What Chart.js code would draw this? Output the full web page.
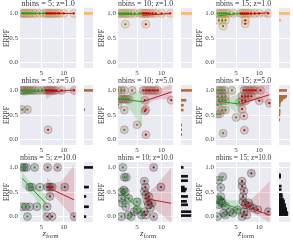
<!DOCTYPE html>
<html>
<head>
<meta charset="utf-8">
<script src="https://cdn.jsdelivr.net/npm/chart.js@4"></script>
<style>
body { margin: 0; background: #fff; width: 293px; height: 242px; position: relative; overflow: hidden; }
canvas { position: absolute; }
.xl { position: absolute; width: 40px; text-align: center; font-family: 'Liberation Serif', serif; font-size: 9px; line-height: 9px; color: #3a3a3a; }
.xl sub { font-size: 6.5px; vertical-align: -2px; line-height: 0; }
</style>
</head>
<body>
<script>
// panel order: row by row (z = 1, 5, 10), columns nbins = 5, 10, 15
const panelTitles = ['nbins = 5; z=1.0', 'nbins = 10; z=1.0', 'nbins = 15; z=1.0',
                     'nbins = 5; z=5.0', 'nbins = 10; z=5.0', 'nbins = 15; z=5.0',
                     'nbins = 5; z=10.0', 'nbins = 10; z=10.0', 'nbins = 15; z=10.0'];
const yTicks = [0, 0.5, 1];
const xTicks = [5, 10];

// [z_form, ERPF] for the early (green) and late (red) groups
const greenPts = [
  [[0.7,1],[1.0,1],[1.3,1],[1.6,1],[1.9,1],[2.3,1],[2.7,1],[3.2,1],[3.7,1],[4.6,1],[5.5,1]],
  [[1.3,1],[1.7,1],[2.1,1],[2.5,1],[2.9,1],[3.3,1],[3.8,1],[4.5,1],[5.5,1],[2.6,0.78]],
  [[1.0,1],[1.4,1],[1.8,1],[2.2,1],[2.6,1],[3.0,1],[3.5,1],[4.5,1],[1.3,0.86],[2.0,0.86],[2.7,0.86],[2.2,0.74]],
  [[0.6,1],[0.9,1],[1.3,1],[1.7,1],[2.1,1],[2.5,1],[3.0,1],[3.5,1],[4.3,1],[5.2,1],[0.7,0.61],[1.9,0.61]],
  [[1.1,1],[1.8,1],[2.4,1],[4.0,1],[1.4,0.82],[1.8,0.82],[2.2,0.82],[2.6,0.82],[3.0,0.82],[3.4,0.82],[1.1,0.71],[2.4,0.6],[2.4,0.2],[5.0,0.3]],
  [[1.0,1],[1.5,1],[2.0,1],[2.5,1],[4.1,1],[1.0,0.88],[2.0,0.88],[2.7,0.88],[1.3,0.79],[2.0,0.79],[2.7,0.79],[1.0,0.7],[2.0,0.6],[2.7,0.6],[1.0,0.52],[1.5,0.52],[5.0,0.45],[2.2,0.13],[5.7,0.76]],
  [[0.7,1],[1.2,1],[1.7,1],[3.5,1],[2.4,0.6],[2.9,0.6],[4.7,0.6],[0.7,0.2],[1.5,0.2],[2.4,0.2],[4.0,0.2],[1.9,0]],
  [[2.1,1],[2.4,0.8],[2.8,0.8],[1.8,0.5],[2.3,0.54],[2.6,0.5],[2.0,0.27],[1.8,0.37],[2.7,0.2],[1.8,0],[3.2,0.03],[3.8,0],[4.4,0.1],[5.0,0.3],[5.0,0.14],[5.9,0.03],[3.3,0.37]],
  [[1.2,0.74],[2.1,0.81],[1.7,0.59],[1.2,0.34],[1.7,0.31],[1.3,0.24],[2.0,0.28],[2.7,0.21],[2.3,0.07],[1.0,0],[2.7,0.03],[3.7,0.1],[4.3,0.07],[5.3,0.14],[1.7,0.41]]
];
const redPts = [
  [[6.1,1],[6.4,1],[6.7,1],[7.0,1],[7.3,1],[7.7,1],[8.1,1],[8.6,1],[9.0,1],[10.0,1],[12.2,1]],
  [[6.1,1],[6.4,1],[6.7,1],[7.0,1],[7.3,1],[7.7,1],[8.2,1],[8.8,1],[10.0,1],[11.8,1],[6.8,0.78]],
  [[6.0,1],[6.4,1],[6.8,1],[7.2,1],[7.6,1],[8.2,1],[9.0,1],[10.0,1],[12.0,1],[7.0,0.86],[7.0,0.79]],
  [[6.0,1],[6.3,1],[6.6,1],[7.0,1],[7.4,1],[7.8,1],[8.3,1],[9.5,1],[12.3,1],[6.5,0.2]],
  [[6.3,1],[6.8,1],[7.3,1],[7.7,1],[8.2,1],[8.7,1],[9.2,1],[6.6,0.8],[12.0,0.8],[6.8,0.61],[6.6,0.58],[6.8,0.1]],
  [[6.7,1],[7.2,1],[7.7,1],[8.2,1],[8.7,1],[9.2,1],[10.3,1],[6.3,0.88],[7.0,0.88],[7.6,0.88],[8.3,0.88],[6.3,0.79],[7.0,0.79],[10.0,0.79],[12.2,0.74],[6.3,0.62],[6.7,0.48],[6.8,0.19]],
  [[6.4,1],[8.6,1],[6.4,0.6],[6.9,0.6],[7.4,0.6],[10.2,0.6],[6.9,0.41],[6.3,0.2],[6.3,0],[7.4,0],[12.3,0]],
  [[8.4,1],[6.5,0.72],[6.7,0.6],[9.9,0.6],[6.5,0.51],[6.8,0.44],[7.4,0.41],[7.1,0.31],[8.0,0.27],[7.7,0.17],[6.5,0.1],[6.8,0.03],[8.4,0],[7.3,0.24]],
  [[8.3,0.88],[6.3,0.72],[6.3,0.62],[6.7,0.52],[6.5,0.41],[6.5,0.31],[7.0,0.24],[7.7,0.28],[8.0,0.21],[8.7,0.17],[9.7,0.14],[12.0,0.1],[6.7,0.1],[6.3,0],[7.3,0.03]]
];

// fitted lines, end points
const greenFit = [
  [[0.7,1],[6.0,1]], [[1.3,0.97],[6.1,0.99]], [[1.0,0.95],[6.0,1.0]],
  [[0.6,0.94],[6.0,1.0]], [[1.1,0.83],[6.1,0.77]], [[1.0,0.78],[6.0,0.72]],
  [[0.7,0.78],[6.0,0.27]], [[1.8,0.48],[6.2,0.09]], [[1.0,0.31],[6.0,0.14]]
];
const redFit = [
  [[6.0,1],[12.2,1]], [[6.1,0.96],[11.8,1.0]], [[6.0,0.98],[12.0,1.01]],
  [[6.0,0.96],[12.3,1.01]], [[6.1,0.77],[12.1,0.97]], [[6.0,0.73],[12.2,0.91]],
  [[6.2,0.6],[12.3,0.34]], [[6.5,0.37],[12.0,0.27]], [[6.0,0.24],[12.3,0.03]]
];
// confidence bands: [z_form, low, high]
const greenBand = [
  [[0.7,0.99,1.01],[6.0,0.99,1.01]],
  [[1.3,0.91,1.03],[3.7,0.95,0.99],[6.1,0.93,1.04]],
  [[1.0,0.88,1.01],[3.5,0.95,0.99],[6.0,0.93,1.05]],
  [[0.6,0.87,1.0],[3.0,0.93,1.0],[6.0,0.93,1.06]],
  [[1.1,0.77,0.89],[2.5,0.74,0.9],[4.0,0.55,0.95],[6.1,0.23,1.03]],
  [[1.0,0.68,0.87],[3.0,0.7,0.82],[6.0,0.48,0.97]],
  [[0.7,0.6,0.9],[3.3,0.42,0.62],[6.0,-0.03,0.45]],
  [[1.8,0.3,0.66],[3.8,0.22,0.38],[6.2,-0.1,0.38]],
  [[1.0,0.16,0.47],[3.5,0.16,0.32],[6.0,-0.02,0.34]]
];
const redBand = [
  [[6.0,0.99,1.01],[12.2,0.99,1.01]],
  [[6.1,0.9,1.01],[9.0,0.96,1.0],[11.8,0.97,1.03]],
  [[6.0,0.92,1.02],[9.0,0.97,1.01],[12.0,0.91,1.06]],
  [[6.0,0.82,1.02],[8.0,0.93,1.01],[12.3,0.96,1.05]],
  [[6.1,0.57,0.98],[8.0,0.78,1.0],[10.0,0.83,1.05],[12.1,0.8,1.12]],
  [[6.0,0.62,1.12],[9.0,0.8,1.12],[12.2,0.72,1.12]],
  [[6.2,0.42,0.8],[7.5,0.45,0.68],[9.5,0.25,0.72],[12.3,-0.05,1.05]],
  [[6.5,0.25,0.47],[7.5,0.25,0.5],[9.3,0.1,0.68],[12.0,-0.12,1.0]],
  [[6.0,0.14,0.38],[8.0,0.1,0.32],[10.0,0.0,0.5],[12.3,-0.12,0.72]]
];
// side histograms: [ERPF, length on a 0-10 scale]
const margBars = [
  [[1.0,9.6]],
  [[1.0,9.6]],
  [[1.0,9.6],[0.86,1.5]],
  [[1.0,9.6],[0.61,0.8]],
  [[1.0,9.6],[0.8,4.5],[0.7,2.2],[0.6,2.0],[0.3,0.6],[0.2,0.6],[0.1,0.6]],
  [[1.0,7],[0.88,7],[0.85,5.6],[0.81,3.5],[0.78,2],[0.74,1.2],[0.69,1],[0.6,1],[0.55,1],[0.5,0.8],[0.4,0.7]],
  [[1.0,9.6],[0.6,5],[0.41,2.1],[0.2,5],[0.0,2.1]],
  [[1.0,2],[0.82,6],[0.73,6],[0.6,3],[0.56,5],[0.52,4],[0.41,6],[0.31,5],[0.24,6],[0.1,9],[0.02,9]],
  [[0.85,1.5],[0.8,1.5],[0.62,2],[0.55,2],[0.45,3],[0.41,3],[0.36,4],[0.32,5],[0.28,5],[0.24,6],[0.2,6],[0.16,7],[0.12,7],[0.08,8],[0.04,8]]
];

// layout
const cols = [
  {left: 0,   axisW: 20, right: 81,  mL: 84,  mW: 9,  xr: [0.25, 12.75]},
  {left: 95,  axisW: 23, right: 178, mL: 181, mW: 11, xr: [1.1, 12.4]},
  {left: 193, axisW: 23, right: 276, mL: 279, mW: 11, xr: [0.66, 12.6]}
];
const rowTop = [8, 85, 162];
const plotH = 60, titleH = 8, xAxisH = 10;
const yr = [-0.11, 1.11];
const serif = "'Liberation Serif', 'Times New Roman', serif";
const ink = '#3a3a3a';
const rowFill = ['rgba(235,170,90,0.3)', 'rgba(160,90,75,0.26)', 'rgba(0,0,0,0.2)'];
const rowEdge = ['rgba(150,120,95,0.4)', 'rgba(120,85,75,0.38)', 'rgba(0,0,0,0.3)'];
const rowBar = ['#ffb660', '#b26c3c', '#111'];
const greenC = '#1f9e1f', redC = '#b22222';

const bg = {
  id: 'bg',
  beforeDraw(c) {
    const a = c.chartArea, ctx = c.ctx;
    ctx.save();
    ctx.fillStyle = '#eaeaf2';
    ctx.fillRect(a.left, a.top, a.right - a.left, a.bottom - a.top);
    ctx.restore();
  }
};

function makeCanvas(left, top, w, h) {
  const cv = document.createElement('canvas');
  cv.width = w; cv.height = h;
  cv.style.left = left + 'px'; cv.style.top = top + 'px';
  cv.style.width = w + 'px'; cv.style.height = h + 'px';
  document.body.appendChild(cv);
  return cv;
}

const setY = s => { s.ticks = yTicks.map(v => ({value: v})); };
const setX = s => { s.ticks = xTicks.map(v => ({value: v})); };
const xy = p => ({x: p[0], y: p[1]});

for (let i = 0; i < 9; i++) {
  const r = Math.floor(i / 3), c = i % 3, col = cols[c];
  const w = col.right - col.left, h = titleH + plotH + xAxisH;
  const cv = makeCanvas(col.left, rowTop[r] - titleH, w, h);
  const g = greenPts[i], rd = redPts[i];
  const base = {clip: 0, pointRadius: 0, borderWidth: 0, fill: false};
  new Chart(cv, {
    type: 'line',
    data: {
      datasets: [
        {...base, data: greenBand[i].map(b => ({x: b[0], y: b[1]})), order: 3},
        {...base, data: greenBand[i].map(b => ({x: b[0], y: b[2]})), fill: '-1', backgroundColor: 'rgba(40,170,40,0.2)', order: 3},
        {...base, data: redBand[i].map(b => ({x: b[0], y: b[1]})), order: 3},
        {...base, data: redBand[i].map(b => ({x: b[0], y: b[2]})), fill: '-1', backgroundColor: 'rgba(190,50,60,0.2)', order: 3},
        {...base, data: g.concat(rd).map(xy), showLine: false, pointRadius: 4,
          pointBackgroundColor: rowFill[r], pointBorderColor: rowEdge[r], pointBorderWidth: 0.8, order: 2},
        {...base, data: greenFit[i].map(xy), borderColor: greenC, borderWidth: 1, order: 1},
        {...base, data: redFit[i].map(xy), borderColor: redC, borderWidth: 1, order: 1},
        {...base, data: g.map(xy), showLine: false, pointRadius: 1.1, pointBackgroundColor: greenC, order: 0},
        {...base, data: rd.map(xy), showLine: false, pointRadius: 1.1, pointBackgroundColor: '#c00000', order: 0}
      ]
    },
    options: {
      responsive: false, animation: false, events: [],
      layout: {padding: 0},
      plugins: {
        legend: {display: false}, tooltip: {enabled: false},
        title: {display: true, text: panelTitles[i], fullSize: false, color: ink, padding: 0,
                font: {family: serif, size: 8.2, weight: 'normal', lineHeight: '8px'}}
      },
      scales: {
        x: {type: 'linear', min: col.xr[0], max: col.xr[1], afterBuildTicks: setX,
            afterFit: s => { s.height = xAxisH; },
            grid: {color: '#fff', lineWidth: 1, drawTicks: false}, border: {display: false},
            ticks: {font: {family: serif, size: 7}, color: ink, padding: 1}},
        y: {type: 'linear', min: yr[0], max: yr[1], afterBuildTicks: setY,
            afterFit: s => { s.width = col.axisW; },
            grid: {color: '#fff', lineWidth: 1, drawTicks: false}, border: {display: false},
            ticks: {font: {family: serif, size: 7}, color: ink, padding: 2, callback: v => v.toFixed(1)},
            title: {display: true, text: 'ERPF', color: ink, padding: {top: 3, bottom: 0},
                    font: {family: serif, size: 7.5, lineHeight: '8px'}}}
      }
    },
    plugins: [bg]
  });

  const mc = makeCanvas(col.mL, rowTop[r], col.mW, plotH);
  new Chart(mc, {
    type: 'bar',
    data: {datasets: [{data: margBars[i].map(b => ({x: b[1], y: b[0]})), backgroundColor: rowBar[r], barThickness: 2, clip: 0}]},
    options: {
      indexAxis: 'y', responsive: false, animation: false, events: [],
      layout: {padding: 0},
      plugins: {legend: {display: false}, tooltip: {enabled: false}},
      scales: {
        x: {type: 'linear', min: 0, max: 10, display: false},
        y: {type: 'linear', min: yr[0], max: yr[1], offset: false, afterBuildTicks: setY,
            afterFit: s => { s.width = 0; },
            ticks: {display: false}, grid: {color: '#fff', lineWidth: 1, drawTicks: false, offset: false},
            border: {display: false}}
      }
    },
    plugins: [bg]
  });
}

// x axis label on the bottom row (subscript needs html)
cols.forEach(col => {
  const d = document.createElement('div');
  d.className = 'xl';
  d.style.left = ((col.left + col.axisW + col.right) / 2 - 20) + 'px';
  d.style.top = '229px';
  d.innerHTML = '<i>z</i><sub>form</sub>';
  document.body.appendChild(d);
});
</script>
</body>
</html>
